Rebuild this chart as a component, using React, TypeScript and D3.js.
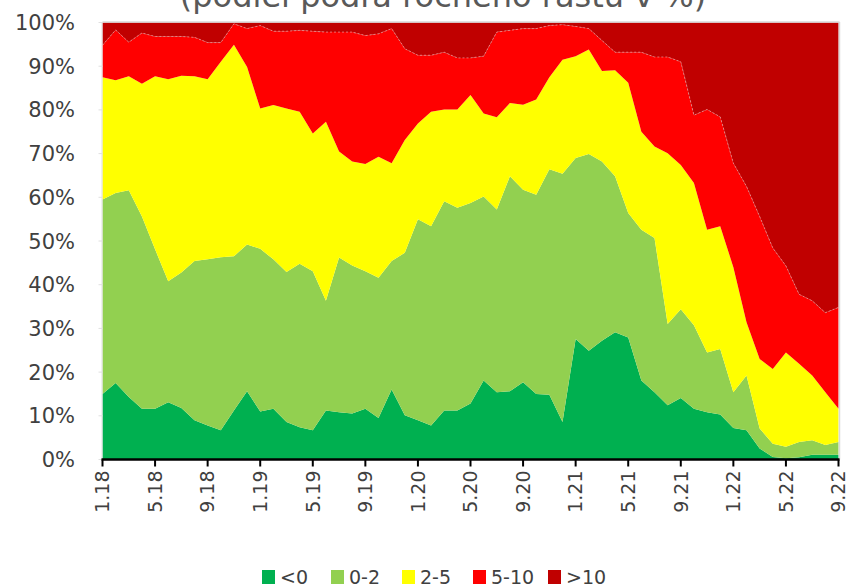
import React, { useEffect } from "react";
import * as d3 from "d3";

const months = [
  "1.18","2.18","3.18","4.18","5.18","6.18","7.18","8.18","9.18","10.18","11.18","12.18",
  "1.19","2.19","3.19","4.19","5.19","6.19","7.19","8.19","9.19","10.19","11.19","12.19",
  "1.20","2.20","3.20","4.20","5.20","6.20","7.20","8.20","9.20","10.20","11.20","12.20",
  "1.21","2.21","3.21","4.21","5.21","6.21","7.21","8.21","9.21","10.21","11.21","12.21",
  "1.22","2.22","3.22","4.22","5.22","6.22","7.22","8.22","9.22"
];
const tickLabels = ["1.18","5.18","9.18","1.19","5.19","9.19","1.20","5.20","9.20","1.21","5.21","9.21","1.22","5.22","9.22"];
const yTicks = [0, 10, 20, 30, 40, 50, 60, 70, 80, 90, 100];

const seriesNames = ["<0", "0-2", "2-5", "5-10", ">10"];
const seriesColors = ["#00B050", "#92D050", "#FFFF00", "#FF0000", "#C00000"];

const lt0 = [15.0,17.5,14.3,11.6,11.6,13.1,11.8,9.0,7.8,6.7,11.2,15.6,11.0,11.6,8.6,7.4,6.7,11.2,10.8,10.5,11.6,9.5,16.0,10.1,9.0,7.8,11.2,11.2,12.8,18.1,15.4,15.6,17.7,15.0,14.8,8.6,27.6,24.9,27.2,29.1,27.9,18.1,15.4,12.4,14.1,11.6,10.8,10.3,7.2,6.7,2.5,0.6,0.3,0.5,1.1,1.1,1.1];
const r0to2 = [44.5,43.5,47.3,44.0,36.5,27.7,31.0,36.4,38.0,39.6,35.3,33.6,37.2,34.2,34.3,37.4,36.4,25.1,35.4,33.9,31.5,32.1,29.4,37.2,46.0,45.6,47.9,46.4,45.9,42.1,41.8,49.2,44.0,45.6,51.6,56.8,41.4,45.0,41.0,35.7,28.5,34.5,35.3,18.6,20.3,19.1,13.7,15.0,8.2,12.5,4.6,3.0,2.6,3.5,3.3,2.2,2.9];
const r2to5 = [28.0,25.8,26.1,30.4,39.6,46.2,45.0,42.3,41.2,44.7,48.4,40.6,32.1,35.3,37.4,34.8,31.5,41.0,24.3,23.8,24.5,27.7,22.4,25.8,21.9,26.2,21.0,22.5,24.7,19.0,21.1,16.8,19.5,21.8,21.1,26.1,23.3,23.9,20.7,24.3,29.8,22.4,20.9,39.1,33.0,32.6,28.1,28.1,28.6,12.2,15.9,17.1,21.6,17.9,14.8,12.1,7.6];
const r5to10 = [7.3,11.5,7.8,11.6,9.1,9.8,9.0,8.9,8.4,4.4,4.8,8.8,19.0,16.9,17.7,18.6,23.4,20.5,27.3,29.6,29.4,28.1,30.8,20.9,15.6,12.9,13.1,11.8,8.5,13.1,19.5,16.6,17.4,16.2,11.8,8.0,6.8,4.8,7.0,4.1,7.0,18.2,20.5,22.0,23.6,15.5,27.5,25.0,23.8,31.1,32.6,27.7,19.8,15.9,17.1,18.2,23.2];
const gt10 = [5.2,1.7,4.5,2.4,3.2,3.2,3.2,3.4,4.6,4.6,0.3,1.4,0.7,2.0,2.0,1.8,2.0,2.2,2.2,2.2,3.0,2.6,1.4,6.0,7.5,7.5,6.8,8.1,8.1,7.7,2.2,1.8,1.4,1.4,0.7,0.5,0.9,1.4,4.1,6.8,6.8,6.8,7.9,7.9,9.0,21.2,19.9,21.6,32.2,37.5,44.4,51.6,55.7,62.2,63.7,66.4,65.2];

const seriesValues = [lt0, r0to2, r2to5, r5to10, gt10];

const W = 852;
const H = 588;
const margin = { left: 102.5, right: 838.5, top: 22.5, bottom: 459.5 };
const FONT = "'DejaVu Sans', Verdana, sans-serif";

export default function App() {
  useEffect(() => {
    document.body.style.margin = "0";
  }, []);

  const rows = months.map((m, i) => {
    const r: Record<string, number | string> = { month: m };
    seriesNames.forEach((s, k) => (r[s] = seriesValues[k][i]));
    return r;
  });

  const stack = d3
    .stack<any>()
    .keys(seriesNames)
    .offset(d3.stackOffsetExpand);
  const layers = stack(rows);

  const x = d3.scalePoint<string>().domain(months).range([margin.left, margin.right]);
  const y = d3.scaleLinear().domain([0, 1]).range([margin.bottom, margin.top]);

  const area = d3
    .area<any>()
    .x((d) => x(d.data.month) as number)
    .y0((d) => y(d[0]))
    .y1((d) => y(d[1]))
    .curve(d3.curveLinear);

  const topLine = d3
    .line<any>()
    .x((d) => x(d.data.month) as number)
    .y((d) => y(d[0]));

  const legendX = [262, 331, 402, 473, 548];

  return (
    <svg width={W} height={H} style={{ display: "block", background: "#fff" }}>
      <text
        x={443}
        y={7}
        textAnchor="middle"
        fontFamily={FONT}
        fontSize={32}
        fill="#595959"
      >
        (podiel podľa ročného rastu v %)
      </text>

      {layers.map((layer, k) => (
        <path key={k} d={area(layer) as string} fill={seriesColors[k]} stroke="none" />
      ))}
      <path
        d={topLine(layers[4]) as string}
        fill="none"
        stroke="#e8a0a0"
        strokeWidth={1}
        strokeDasharray="2,2"
        opacity={0.7}
      />

      {/* plot border top/right */}
      <line x1={margin.left} x2={margin.right + 1} y1={margin.top - 0.5} y2={margin.top - 0.5} stroke="#d9d9d9" strokeWidth={1.5} />
      <line x1={margin.right + 1} x2={margin.right + 1} y1={margin.top - 0.5} y2={margin.bottom} stroke="#d9d9d9" strokeWidth={1.5} />
      {/* left axis */}
      <line x1={margin.left - 0.5} x2={margin.left - 0.5} y1={margin.top} y2={margin.bottom} stroke="#e0e0e0" strokeWidth={1} />

      {yTicks.map((t) => (
        <g key={t}>
          <line x1={margin.left - 4} x2={margin.left} y1={y(t / 100)} y2={y(t / 100)} stroke="#e0e0e0" />
          <text
            x={75}
            y={y(t / 100)}
            dy="0.36em"
            textAnchor="end"
            fontFamily={FONT}
            fontSize={21}
            fill="#404040"
          >
            {t}%
          </text>
        </g>
      ))}

      {/* x axis */}
      <line x1={margin.left - 1} x2={margin.right + 1} y1={margin.bottom} y2={margin.bottom} stroke="#000" strokeWidth={2.5} />
      {tickLabels.map((t) => {
        const xx = x(t) as number;
        return (
          <g key={t}>
            <line x1={xx} x2={xx} y1={margin.bottom} y2={margin.bottom + 7} stroke="#000" strokeWidth={2} />
            <text
              transform={`translate(${xx},${margin.bottom + 11}) rotate(-90)`}
              textAnchor="end"
              dy="0.36em"
              fontFamily={FONT}
              fontSize={19}
              fill="#404040"
            >
              {t}
            </text>
          </g>
        );
      })}

      {/* legend */}
      {seriesNames.map((s, k) => (
        <g key={s}>
          <rect x={legendX[k]} y={570} width={13} height={14} fill={seriesColors[k]} />
          <text x={legendX[k] + 18} y={577} dy="0.36em" fontFamily={FONT} fontSize={19} fill="#404040">
            {s}
          </text>
        </g>
      ))}
    </svg>
  );
}
